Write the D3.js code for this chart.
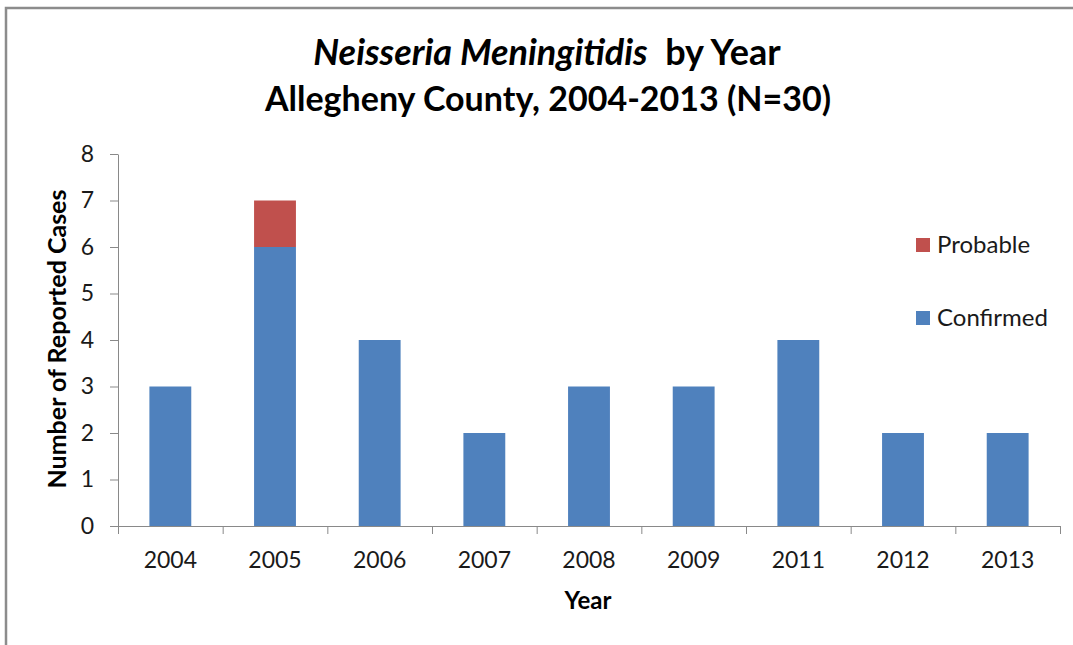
<!DOCTYPE html>
<html>
    <head>
        <style>
            body { margin: 0; background: #fff; }
            text { font-family: Lato, "Open Sans", sans-serif; fill: #000; }
            .tick text { font-size: 23px; fill: #1a1a1a; }
            .axis path, .axis line { stroke: #898989; }
            .title { font-size: 34px; font-weight: bold; text-anchor: middle; }
            .axis-title { font-weight: bold; text-anchor: middle; }
            .legend text { font-size: 24px; fill: #1a1a1a; }
        </style>
        <script src="https://d3js.org/d3.v7.min.js"></script>
    </head>
    <body>
        <svg width="1073" height="645"></svg>
        <script>
            var years = ["2004", "2005", "2006", "2007", "2008", "2009", "2011", "2012", "2013"];
            var confirmed = [3, 6, 4, 2, 3, 3, 4, 2, 2];
            var probable = [0, 1, 0, 0, 0, 0, 0, 0, 0];
            var yTicks = [0, 1, 2, 3, 4, 5, 6, 7, 8];
            var seriesNames = ["Confirmed", "Probable"];
            var colors = ["#4F81BD", "#C0504D"];

            var svg = d3.select("svg");

            // chart frame (only left and top edges show in the picture)
            svg.append("path")
               .attr("d", "M6,645 V8 H1073")
               .attr("fill", "none")
               .attr("stroke", "#8c8c8c")
               .attr("stroke-width", 2.5);

            var plotLeft = 118, plotRight = 1060, plotTop = 154, plotBottom = 526;

            var x = d3.scaleBand()
                      .domain(years)
                      .range([plotLeft, plotRight])
                      .paddingInner(0.6)
                      .paddingOuter(0.3);

            var y = d3.scaleLinear()
                      .domain([0, 8])
                      .range([plotBottom, plotTop]);

            var rows = years.map(function(yr, i) {
                return { year: yr, Confirmed: confirmed[i], Probable: probable[i] };
            });

            var layers = d3.stack().keys(seriesNames)(rows);

            svg.append("g")
               .selectAll("g")
               .data(layers)
               .enter().append("g")
               .attr("fill", function(d, i) { return colors[i]; })
               .selectAll("rect")
               .data(function(d) { return d.filter(function(p) { return p[1] > p[0]; }); })
               .enter().append("rect")
               .attr("x", function(d) { return x(d.data.year); })
               .attr("width", x.bandwidth())
               .attr("y", function(d) { return y(d[1]); })
               .attr("height", function(d) { return y(d[0]) - y(d[1]); });

            // y axis
            svg.append("g")
               .attr("class", "axis")
               .attr("transform", "translate(" + plotLeft + ",0)")
               .call(d3.axisLeft(y).tickValues(yTicks).tickSize(8).tickSizeOuter(0).tickPadding(16));

            // x axis: tick marks at category boundaries, labels at centres
            var edges = d3.scaleLinear().domain([0, years.length]).range([plotLeft, plotRight]);
            svg.append("g")
               .attr("class", "axis")
               .attr("transform", "translate(0," + plotBottom + ")")
               .call(d3.axisBottom(edges).ticks(years.length).tickSize(8).tickSizeOuter(0).tickFormat(""));

            svg.append("g")
               .attr("class", "axis")
               .attr("transform", "translate(0," + plotBottom + ")")
               .call(d3.axisBottom(x).tickSize(0).tickPadding(26))
               .call(function(g) { g.select(".domain").remove(); });

            // titles
            var t1 = svg.append("text")
               .attr("class", "title")
               .style("font-size", "36px")
               .attr("x", 547)
               .attr("y", 65);
            t1.append("tspan").attr("font-style", "italic").text("Neisseria Meningitidis");
            t1.append("tspan").text("\u00a0 by Year");

            svg.append("text")
               .attr("class", "title")
               .attr("x", 548)
               .attr("y", 111)
               .text("Allegheny County, 2004-2013 (N=30)");

            svg.append("text")
               .attr("class", "axis-title")
               .style("font-size", "25px")
               .attr("transform", "translate(66,339) rotate(-90)")
               .text("Number of Reported Cases");

            svg.append("text")
               .attr("class", "axis-title")
               .style("font-size", "24px")
               .attr("x", 588)
               .attr("y", 609)
               .text("Year");

            // legend
            var legendItems = [
                { name: "Probable", color: colors[1], y: 245 },
                { name: "Confirmed", color: colors[0], y: 318 }
            ];
            var legend = svg.append("g").attr("class", "legend")
               .selectAll("g")
               .data(legendItems)
               .enter().append("g")
               .attr("transform", function(d) { return "translate(916," + d.y + ")"; });
            legend.append("rect")
               .attr("x", 0).attr("y", -7)
               .attr("width", 14).attr("height", 14)
               .attr("fill", function(d) { return d.color; });
            legend.append("text")
               .attr("x", 21)
               .attr("dy", "0.35em")
               .text(function(d) { return d.name; });
        </script>
    </body>
</html>
